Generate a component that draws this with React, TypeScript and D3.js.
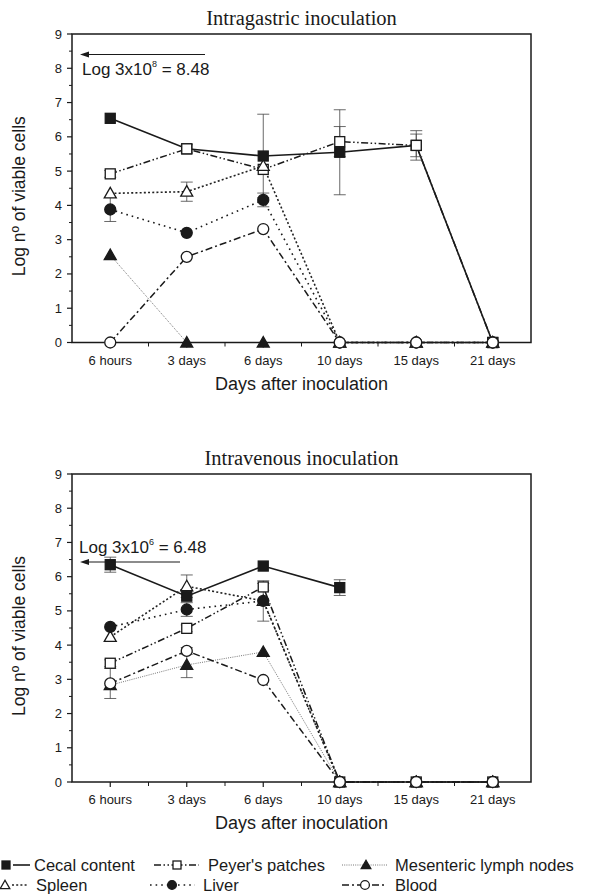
import React from 'react';
import * as d3 from 'd3';

// categories on the x axis
const categories = ['6 hours', '3 days', '6 days', '10 days', '15 days', '21 days'];
const yTicks = [0, 1, 2, 3, 4, 5, 6, 7, 8, 9];

// Intragastric inoculation (log viable cells)
const igCecal = [6.54, 5.65, 5.44, 5.55, 5.75, 0];
const igCecalErr = [0, 0, 1.22, 1.24, 0.43, 0];
const igPeyer = [4.92, 5.65, 5.05, 5.86, 5.75, 0];
const igPeyerErr = [0.1, 0.12, 0, 0.44, 0.33, 0];
const igMesenteric = [2.55, 0, 0, 0, 0, 0];
const igSpleen = [4.35, 4.4, 5.15, 0, 0, 0];
const igSpleenErr = [0, 0.28, 0, 0, 0, 0];
const igLiver = [3.88, 3.2, 4.16, 0, 0, 0];
const igLiverErr = [0.35, 0, 0.2, 0, 0, 0];
const igBlood = [0, 2.5, 3.31, 0, 0, 0];

// Intravenous inoculation
const ivCecal = [6.35, 5.43, 6.31, 5.68, null, null];
const ivCecalErr = [0.22, 0, 0, 0.23, 0, 0];
const ivPeyer = [3.47, 4.49, 5.7, 0, 0, 0];
const ivPeyerErr = [0.1, 0.1, 0.1, 0, 0, 0];
const ivMesenteric = [2.83, 3.42, 3.8, 0, 0, 0];
const ivMesentericErr = [0, 0.37, 0, 0, 0, 0];
const ivSpleen = [4.24, 5.72, 5.29, 0, 0, 0];
const ivSpleenErr = [0, 0.33, 0, 0, 0, 0];
const ivLiver = [4.53, 5.04, 5.29, 0, 0, 0];
const ivLiverErr = [0, 0.2, 0.59, 0, 0, 0];
const ivBlood = [2.88, 3.83, 2.98, 0, 0, 0];
const ivBloodErr = [0.44, 0.1, 0, 0, 0, 0];

const INK = '#1a1a1a';
const styles: any = {
  cecal: { dash: 'none', w: 1.6, color: INK, shape: 'square', filled: true, label: 'Cecal content' },
  peyer: { dash: '7,2.5,1.5,2.5,1.5,2.5', w: 1.5, color: INK, shape: 'square', filled: false, label: "Peyer's patches" },
  mesenteric: { dash: '1,1.2', w: 1, color: '#777', shape: 'triangle', filled: true, label: 'Mesenteric lymph nodes' },
  spleen: { dash: '2,2.2', w: 1.6, color: '#222', shape: 'triangle', filled: false, label: 'Spleen' },
  liver: { dash: '1.6,4', w: 1.6, color: INK, shape: 'circle', filled: true, label: 'Liver' },
  blood: { dash: '7,3,2,3', w: 1.5, color: INK, shape: 'circle', filled: false, label: 'Blood' },
};

const x = d3.scaleLinear().domain([0.5, 6.5]).range([72, 531]);

function Marker({ shape, filled, cx, cy, s = 10 }: any) {
  const fill = filled ? INK : '#fff';
  const common = { fill, stroke: INK, strokeWidth: 1.3 };
  if (shape === 'square') return <rect x={cx - s / 2} y={cy - s / 2} width={s} height={s} {...common} />;
  if (shape === 'circle') return <circle cx={cx} cy={cy} r={s * 0.55} {...common} />;
  const h = s * 1.0;
  const half = s * 0.6;
  return <path d={`M${cx},${cy - h * 0.6}L${cx + half},${cy + h * 0.45}L${cx - half},${cy + h * 0.45}Z`} {...common} />;
}

function Panel({ title, top, bottom, series, note, noteLevel }: any) {
  const y = d3.scaleLinear().domain([0, 9]).range([bottom, top]);
  const line = d3.line<any>()
    .defined((d: any) => d != null)
    .x((d: any, i: number) => x(i + 1))
    .y((d: any) => y(d));
  const minorY = d3.range(0.5, 9, 1);
  const minorX = d3.range(1.5, 6.5, 1);
  const [x0, x1] = x.range();
  const cx = (x0 + x1) / 2;
  return (
    <g>
      <text x={cx} y={top - 9} textAnchor="middle" fontFamily="Liberation Serif" fontSize={20.5} fill={INK}>{title}</text>
      {series.map((s: any) => (
        <path key={s.key + 'l'} d={line(s.values) || ''} fill="none" stroke={styles[s.key].color}
          strokeWidth={styles[s.key].w} strokeDasharray={styles[s.key].dash} />
      ))}
      {series.map((s: any) => s.err && s.values.map((v: any, i: number) => {
        const e = s.err[i];
        if (v == null || !e) return null;
        const px = x(i + 1);
        return (
          <g key={s.key + 'e' + i} stroke="#444" strokeWidth={0.8}>
            <line x1={px} x2={px} y1={y(v - e)} y2={y(v + e)} />
            <line x1={px - 6} x2={px + 6} y1={y(v - e)} y2={y(v - e)} />
            <line x1={px - 6} x2={px + 6} y1={y(v + e)} y2={y(v + e)} />
          </g>
        );
      }))}
      <rect x={x0} y={top} width={x1 - x0} height={bottom - top} fill="none" stroke={INK} strokeWidth={1.5} />
      {yTicks.map(t => (
        <g key={'yt' + t}>
          <line x1={x0 - 5} x2={x0} y1={y(t)} y2={y(t)} stroke={INK} strokeWidth={1.2} />
          <text x={x0 - 10} y={y(t) + 4.5} textAnchor="end" fontFamily="Liberation Sans" fontSize={13} fill={INK}>{t}</text>
        </g>
      ))}
      {minorY.map(t => <line key={'ym' + t} x1={x0 - 3} x2={x0} y1={y(t)} y2={y(t)} stroke={INK} strokeWidth={1} />)}
      {categories.map((c, i) => (
        <g key={'xt' + c}>
          <line x1={x(i + 1)} x2={x(i + 1)} y1={bottom} y2={bottom + 5} stroke={INK} strokeWidth={1.2} />
          <text x={x(i + 1)} y={bottom + 22} textAnchor="middle" fontFamily="Liberation Sans" fontSize={13} fill={INK}>{c}</text>
        </g>
      ))}
      {minorX.map(t => <line key={'xm' + t} x1={x(t)} x2={x(t)} y1={bottom} y2={bottom + 4} stroke={INK} strokeWidth={1} />)}
      {series.map((s: any) => s.values.map((v: any, i: number) => v == null ? null : (
        <Marker key={s.key + 'm' + i} shape={styles[s.key].shape} filled={styles[s.key].filled} cx={x(i + 1)} cy={y(v)} />
      )))}
      <text x={cx} y={bottom + 47} textAnchor="middle" fontFamily="Liberation Sans" fontSize={18} fill={INK}>Days after inoculation</text>
      <text transform={`translate(${x0 - 47},${(top + bottom) / 2 + 8}) rotate(-90)`} textAnchor="middle"
        fontFamily="Liberation Sans" fontSize={17.5} fill={INK}>Log nº of viable cells</text>
      {note}
      {noteLevel}
    </g>
  );
}

function Arrow({ xa, xb, yy }: any) {
  return (
    <g>
      <line x1={xa + 6} x2={xb} y1={yy} y2={yy} stroke={INK} strokeWidth={1.1} />
      <path d={`M${xa},${yy}L${xa + 9},${yy - 3}L${xa + 9},${yy + 3}Z`} fill={INK} />
    </g>
  );
}

function NoteText({ tx, ty, exp, val }: any) {
  return (
    <text x={tx} y={ty} fontFamily="Liberation Sans" fontSize={17} fill={INK}>
      Log 3x10<tspan fontSize={9} dy={-8}>{exp}</tspan><tspan dy={8}> = {val}</tspan>
    </text>
  );
}

function Legend() {
  const items = [
    { key: 'cecal', row: 0, l0: 13, l1: 30, m: 6, tx: 34 },
    { key: 'peyer', row: 0, l0: 154, l1: 199, m: 177, tx: 208 },
    { key: 'mesenteric', row: 0, l0: 342, l1: 387, m: 366, tx: 395 },
    { key: 'spleen', row: 1, l0: 12, l1: 28, m: 5, tx: 36 },
    { key: 'liver', row: 1, l0: 150, l1: 195, m: 172, tx: 203 },
    { key: 'blood', row: 1, l0: 342, l1: 387, m: 365, tx: 395 },
  ];
  return (
    <g>
      {items.map(it => {
        const st = styles[it.key];
        const cy = it.row === 0 ? 865 : 885;
        return (
          <g key={'lg' + it.key}>
            <line x1={it.l0} x2={it.l1} y1={cy} y2={cy} stroke={st.color} strokeWidth={st.w} strokeDasharray={st.dash} />
            <Marker shape={st.shape} filled={st.filled} cx={it.m} cy={cy} s={8} />
            <text x={it.tx} y={cy + 5.5} fontFamily="Liberation Sans" fontSize={16.5} fill={INK}>{st.label}</text>
          </g>
        );
      })}
    </g>
  );
}

export default function App() {
  const igSeries = [
    { key: 'cecal', values: igCecal, err: igCecalErr },
    { key: 'peyer', values: igPeyer, err: igPeyerErr },
    { key: 'mesenteric', values: igMesenteric },
    { key: 'spleen', values: igSpleen, err: igSpleenErr },
    { key: 'liver', values: igLiver, err: igLiverErr },
    { key: 'blood', values: igBlood },
  ];
  const ivSeries = [
    { key: 'cecal', values: ivCecal, err: ivCecalErr },
    { key: 'peyer', values: ivPeyer, err: ivPeyerErr },
    { key: 'mesenteric', values: ivMesenteric, err: ivMesentericErr },
    { key: 'spleen', values: ivSpleen, err: ivSpleenErr },
    { key: 'liver', values: ivLiver, err: ivLiverErr },
    { key: 'blood', values: ivBlood, err: ivBloodErr },
  ];
  const yTop = d3.scaleLinear().domain([0, 9]).range([342.5, 34]);
  const yBot = d3.scaleLinear().domain([0, 9]).range([782, 474]);
  return (
    <svg width={589} height={896} style={{ position: 'absolute', left: 0, top: 0, background: '#fff' }}>
      <Panel title="Intragastric inoculation" top={34} bottom={342.5} series={igSeries}
        note={<NoteText tx={82} ty={75} exp="8" val="8.48" />}
        noteLevel={<Arrow xa={80} xb={205} yy={yTop(8.4)} />} />
      <Panel title="Intravenous inoculation" top={474} bottom={782} series={ivSeries}
        note={<NoteText tx={79} ty={553} exp="6" val="6.48" />}
        noteLevel={<Arrow xa={80} xb={180} yy={yBot(6.43)} />} />
      <Legend />
    </svg>
  );
}
